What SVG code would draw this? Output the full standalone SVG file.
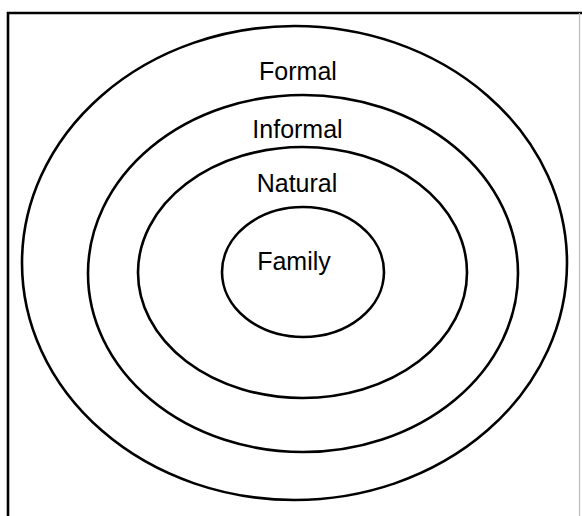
<svg xmlns="http://www.w3.org/2000/svg" width="582" height="516" viewBox="0 0 582 516">
  <style>
    .ring { fill: none; stroke: #000; stroke-width: 2.6; }
    .lbl { font-family: "Liberation Sans", Arial, sans-serif; font-size: 25px; fill: #000; text-anchor: middle; }
  </style>
  <rect x="0" y="0" width="582" height="516" fill="#fff"/>
  <g id="frame">
    <path d="M8 530 V13 H582" fill="none" stroke="#000" stroke-width="2.6"/>
    <line x1="579.5" y1="13" x2="579.5" y2="516" stroke="#bbb" stroke-width="1.2"/>
  </g>
  <g id="formal">
    <ellipse class="ring" cx="294.5" cy="263" rx="272.5" ry="237"/>
    <text class="lbl" x="298" y="80">Formal</text>
  </g>
  <g id="informal">
    <ellipse class="ring" cx="303" cy="273.5" rx="215" ry="178.5"/>
    <text class="lbl" x="297.5" y="138">Informal</text>
  </g>
  <g id="natural">
    <ellipse class="ring" cx="302.5" cy="272.5" rx="164.5" ry="125.5"/>
    <text class="lbl" x="297" y="192">Natural</text>
  </g>
  <g id="family">
    <ellipse class="ring" cx="303" cy="272" rx="81" ry="65"/>
    <text class="lbl" x="294" y="270">Family</text>
  </g>
  <g id="connectors"/>
</svg>
